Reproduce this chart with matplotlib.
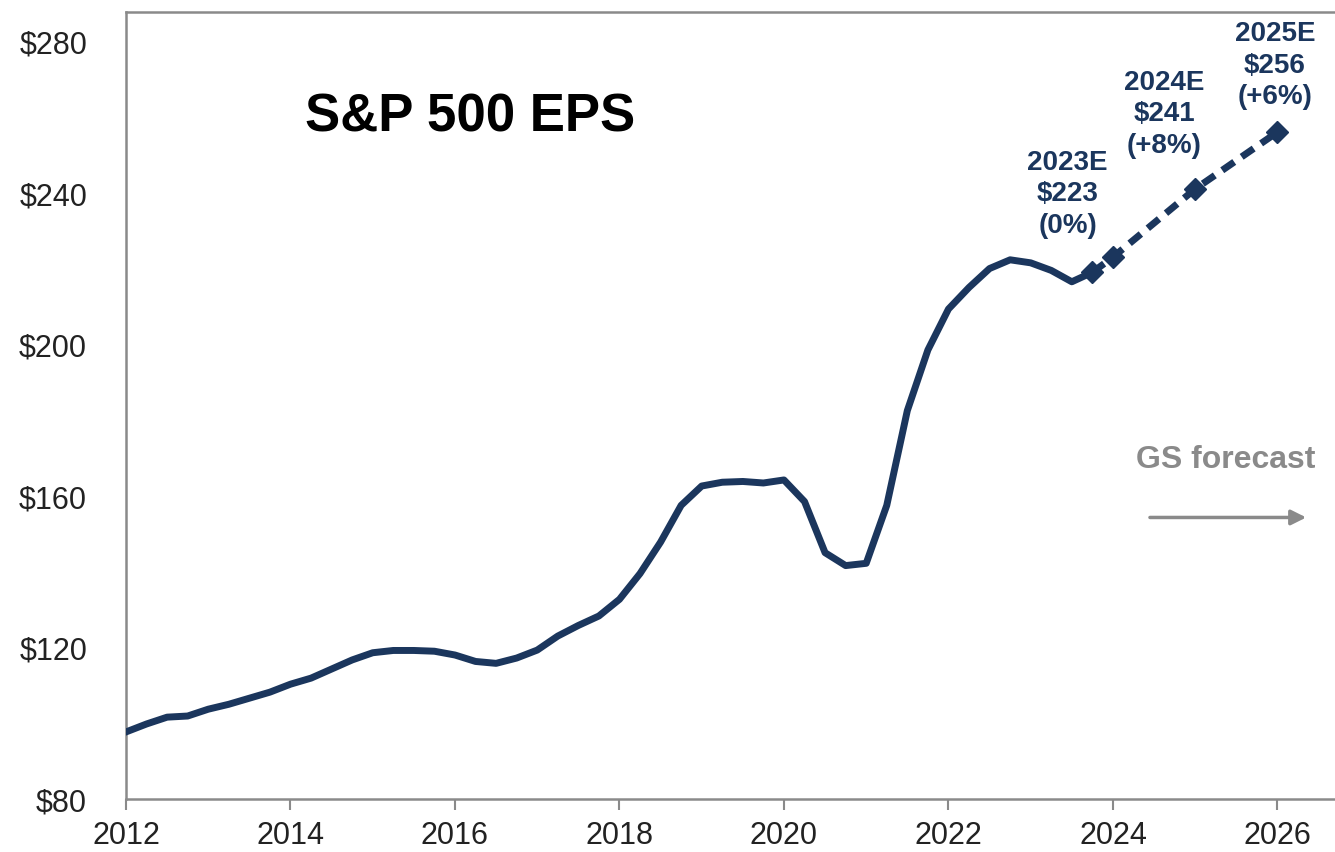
import numpy as np
import matplotlib
matplotlib.use("Agg")
import matplotlib.pyplot as plt

plt.rcParams['font.family'] = ['Liberation Sans', 'DejaVu Sans']

NAVY = "#1b365d"
GRAY = "#8a8a8a"

# trailing S&P 500 EPS, quarterly from 2012Q1
eps_hist = [97.7, 99.8, 101.6, 101.9, 103.7, 105.0, 106.6, 108.2,
            110.3, 111.9, 114.3, 116.7, 118.6, 119.2, 119.2, 119.0,
            118.0, 116.3, 115.8, 117.2, 119.3, 123.0, 125.8, 128.3,
            132.7, 139.5, 147.8, 157.5, 162.6, 163.6, 163.8, 163.4,
            164.2, 158.5, 145.0, 141.6, 142.2, 157.5, 182.5, 198.5,
            209.3, 215.0, 220.0, 222.3, 221.5, 219.5, 216.5, 219.0]
hist_x = 2012 + np.arange(len(eps_hist)) / 4

# GS forecast path
fc_x = [2023.75, 2024.0, 2025.0, 2026.0]
fc_eps = [219.0, 223.0, 241.0, 256.0]

fc_labels = ["2023E\n$223\n(0%)", "2024E\n$241\n(+8%)", "2025E\n$256\n(+6%)"]
label_pos = [(2023.45, 239.8), (2024.62, 261.0), (2025.97, 273.8)]

yticks = [80, 120, 160, 200, 240, 280]
xticks = [2012, 2014, 2016, 2018, 2020, 2022, 2024, 2026]

fig = plt.figure(figsize=(13.35, 8.53), dpi=100)
ax = fig.add_axes([126/1335, 53/853, 1209/1335, 787/853])

ax.plot(hist_x, eps_hist, color=NAVY, lw=5, solid_joinstyle="round", zorder=3)
ax.plot(fc_x, fc_eps, color=NAVY, lw=5, ls=(0, (2.1, 1.3)), marker="D",
        ms=11, mfc=NAVY, mec=NAVY, zorder=4)

for txt, (lx, ly) in zip(fc_labels, label_pos):
    ax.text(lx, ly, txt, ha="center", va="center", color=NAVY,
            fontsize=20, fontweight="bold", linespacing=1.28)

ax.text(0.148, 0.867, "S&P 500 EPS", transform=ax.transAxes, ha="left",
        va="center", fontsize=38, fontweight="bold", color="black")

ax.text(2025.37, 169.8, "GS forecast", ha="center", va="center",
        color=GRAY, fontsize=23, fontweight="bold")
ax.annotate("", xy=(2026.35, 154.3), xytext=(2024.45, 154.3),
            arrowprops=dict(arrowstyle="-|>,head_length=0.9,head_width=0.45",
                            color=GRAY, lw=2.5, shrinkA=0, shrinkB=0))

ax.set_xlim(2012, 2026.7)
ax.set_ylim(80, 287.7)
ax.set_yticks(yticks)
ax.set_yticklabels([f"${v}" for v in yticks])
ax.set_xticks(xticks)
ax.set_xticklabels([str(v) for v in xticks])

for s in ["left", "bottom", "top"]:
    ax.spines[s].set_color(GRAY)
    ax.spines[s].set_linewidth(1.8)
ax.spines["right"].set_visible(False)

ax.tick_params(axis="y", length=0, pad=28, labelsize=22, labelcolor="#222222")
ax.tick_params(axis="x", direction="out", length=8, width=1.5, color=GRAY,
               pad=7, labelsize=22, labelcolor="#222222")

fig.savefig("out.png", dpi=100)
